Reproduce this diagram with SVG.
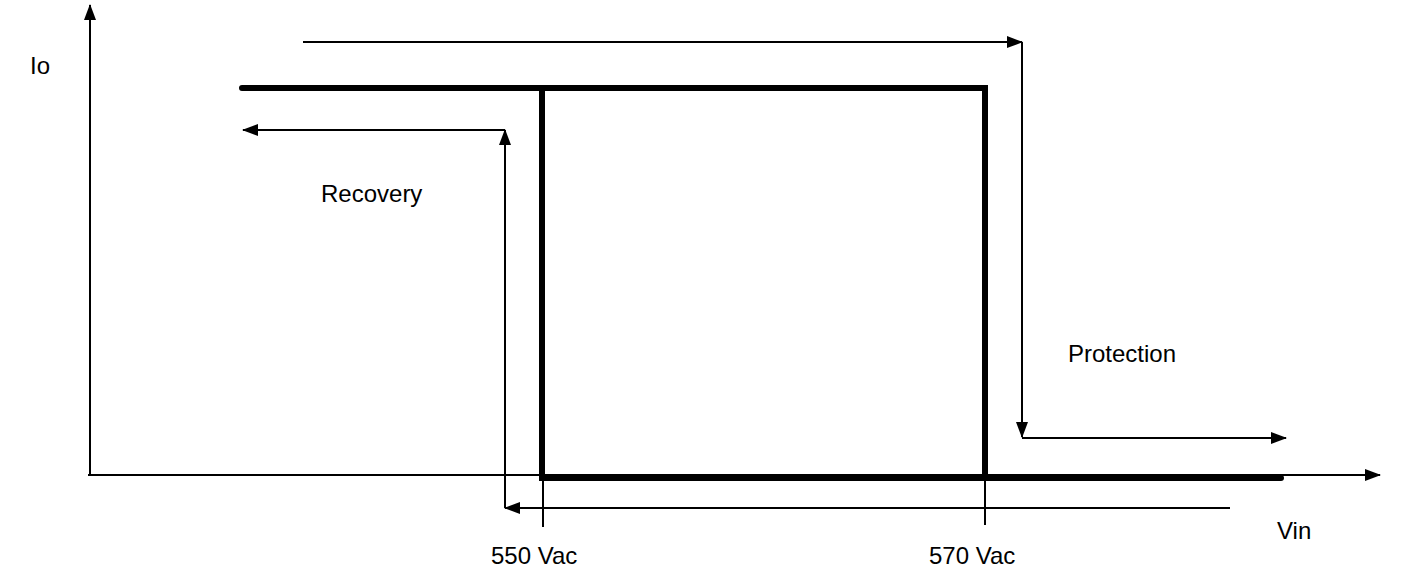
<svg xmlns="http://www.w3.org/2000/svg" width="1406" height="586" viewBox="0 0 1406 586">
<defs>
<marker id="ah" markerWidth="16" markerHeight="12" refX="15" refY="6" orient="auto" markerUnits="userSpaceOnUse"><path d="M0,0 L16,6 L0,12 Z" fill="#000"/></marker>
</defs>
<style>
.t{font-family:"Liberation Sans",Arial,sans-serif;font-size:24px;fill:#000}
.thin{stroke:#000;stroke-width:2;fill:none}
.thick{stroke:#000;stroke-width:6;fill:none;stroke-linecap:round;stroke-linejoin:miter}
</style>
<rect width="1406" height="586" fill="#fff"/>
<g id="axes">
<line class="thin" x1="90" y1="475" x2="90" y2="5" marker-end="url(#ah)"/>
<line class="thin" x1="88" y1="475" x2="1380" y2="475" marker-end="url(#ah)"/>
<line class="thin" x1="543" y1="478" x2="543" y2="527"/>
<line class="thin" x1="985" y1="478" x2="985" y2="525"/>
</g>
<g id="curve">
<polyline class="thick" points="242,88 985,88 985,478"/>
<polyline class="thick" points="542,88 542,478 1281,478"/>
</g>
<g id="connectors">
<polyline class="thin" points="303,42 1022,42" marker-end="url(#ah)"/>
<polyline class="thin" points="1022,42 1022,437" marker-end="url(#ah)"/>
<polyline class="thin" points="1022,438 1286,438" marker-end="url(#ah)"/>
<polyline class="thin" points="1230,508 505,508" marker-end="url(#ah)"/>
<polyline class="thin" points="505,508 505,130" marker-end="url(#ah)"/>
<polyline class="thin" points="505,130 243,130" marker-end="url(#ah)"/>
</g>
<g id="labels">
<text class="t" x="30" y="74">Io</text>
<text class="t" x="321" y="202">Recovery</text>
<text class="t" x="1068" y="362">Protection</text>
<text class="t" x="1277" y="539">Vin</text>
<text class="t" x="491" y="564">550 Vac</text>
<text class="t" x="929" y="564">570 Vac</text>
</g>
</svg>
